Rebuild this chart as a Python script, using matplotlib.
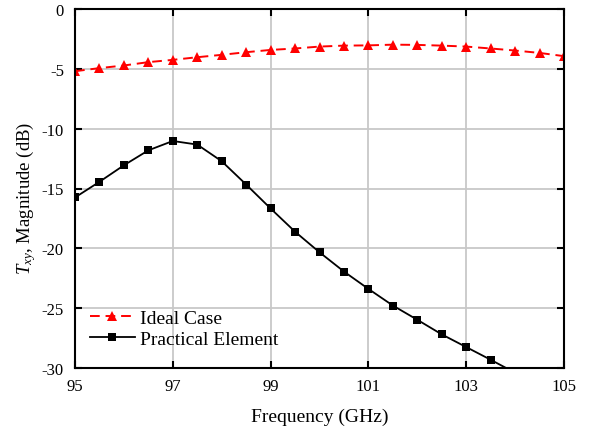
import matplotlib
matplotlib.use("Agg")
import matplotlib.pyplot as plt

freq = [95, 95.5, 96, 96.5, 97, 97.5, 98, 98.5, 99, 99.5, 100, 100.5,
        101, 101.5, 102, 102.5, 103, 103.5, 104, 104.5, 105]
ideal = [-5.2, -4.94, -4.72, -4.44, -4.25, -4.03, -3.83, -3.61, -3.42, -3.3,
         -3.14, -3.06, -3.04, -2.98, -3.0, -3.06, -3.14, -3.3, -3.47, -3.67, -3.94]
practical_freq = [95, 95.5, 96, 96.5, 97, 97.5, 98, 98.5, 99, 99.5, 100, 100.5,
                  101, 101.5, 102, 102.5, 103, 103.5, 104]
practical = [-15.75, -14.44, -13.06, -11.81, -11.03, -11.33, -12.72, -14.67,
             -16.67, -18.61, -20.33, -21.94, -23.39, -24.78, -25.97, -27.19,
             -28.25, -29.31, -30.4]
xticks = [95, 97, 99, 101, 103, 105]
yticks = [0, -5, -10, -15, -20, -25, -30]

plt.rcParams['font.family'] = ['Liberation Serif', 'DejaVu Serif']
plt.rcParams['mathtext.fontset'] = 'custom'
plt.rcParams['mathtext.it'] = 'Liberation Serif:italic'
plt.rcParams['mathtext.rm'] = 'Liberation Serif'

fig = plt.figure(figsize=(5.9, 4.31), dpi=100)
ax = fig.add_axes([75/590, 1 - 369/431, 489/590, 359/431])

ax.plot(freq, ideal, color='#ff0000', linestyle=(0, (5, 3)), linewidth=1.4,
        marker='^', markersize=7, markeredgewidth=0, label='Ideal Case')
ax.plot(practical_freq, practical, color='black', linewidth=1.3,
        marker='s', markersize=5.5, markeredgewidth=0, label='Practical Element')

ax.set_xlim(95, 105)
ax.set_ylim(-30, 0)
ax.set_xticks(xticks)
ax.set_yticks(yticks)
ax.set_xticklabels([str(t) for t in xticks])
ax.set_yticklabels([str(t) for t in yticks])
ax.grid(True, color='#c8c8c8', linewidth=1.3)
ax.set_axisbelow(True)
for s in ax.spines.values():
    s.set_linewidth(1.5)
ax.tick_params(direction='in', length=5, width=1.5, top=True, right=True,
               labelsize=12)
ax.tick_params(axis='x', pad=7)
ax.tick_params(axis='y', pad=8)

ax.set_xlabel('Frequency (GHz)', fontsize=14)
ax.xaxis.set_label_coords(0.5, -0.11)
ax.set_ylabel(r'$T_{xy}$, Magnitude (dB)', fontsize=13.5)
ax.yaxis.set_label_coords(-0.076, 0.474)

leg = ax.legend(loc='lower left', bbox_to_anchor=(0.015, 0.035), frameon=False,
                fontsize=14, handlelength=2.3, handletextpad=0.25, labelspacing=0.15,
                borderaxespad=0.0)

fig.savefig('out.png', dpi=100)
